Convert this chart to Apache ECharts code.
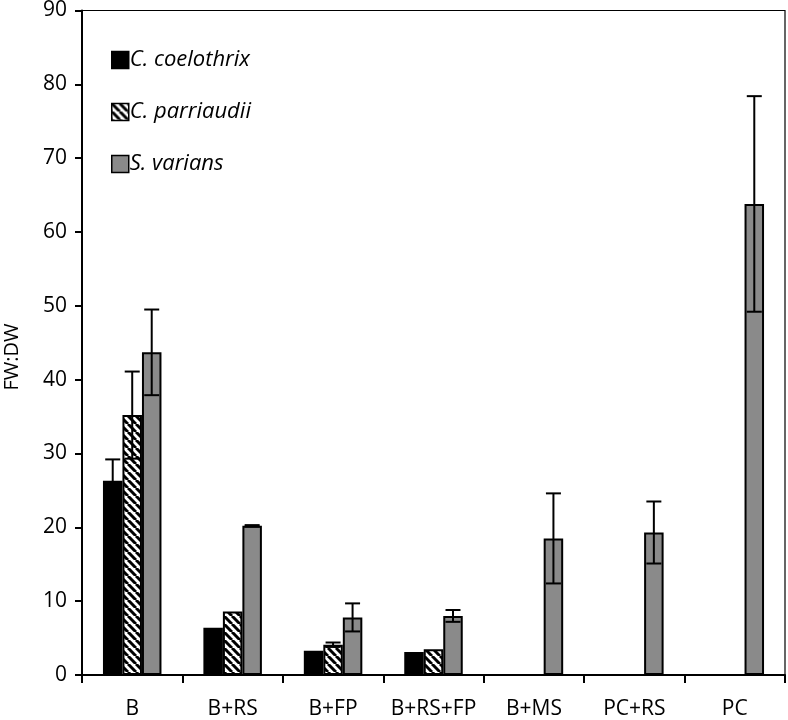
<!DOCTYPE html>
<html>
<head>
<meta charset="utf-8">
<script src="https://cdn.jsdelivr.net/npm/echarts@6/dist/echarts.min.js"></script>
<style>html,body{margin:0;padding:0;background:#fff}#c{width:788px;height:720px}</style>
</head>
<body>
<div id="c"></div>
<script>
const categories = ['B', 'B+RS', 'B+FP', 'B+RS+FP', 'B+MS', 'PC+RS', 'PC'];
const seriesNames = ['C. coelothrix', 'C. parriaudii', 'S. varians'];
const coelothrix = [26.3, 6.4, 3.3, 3.1, null, null, null];
const parriaudii = [35.2, 8.6, 4.1, 3.5, null, null, null];
const varians = [43.7, 20.2, 7.8, 8.0, 18.5, 19.3, 63.8];
const coelothrixErr = [2.9, null, null, null, null, null, null];
const parriaudiiErr = [5.9, null, 0.3, null, null, null, null];
const variansErr = [5.8, 0.1, 1.9, 0.8, 6.1, 4.2, 14.6];
const yTicks = [0, 10, 20, 30, 40, 50, 60, 70, 80, 90];
const yAxisTitle = 'FW:DW';

const FONT = 'Open Sans';
const BAR_W = 19.5;

function hatch() {
  const c = document.createElement('canvas');
  c.width = 8; c.height = 8;
  const g = c.getContext('2d');
  g.fillStyle = '#fff'; g.fillRect(0, 0, 8, 8);
  g.strokeStyle = '#000'; g.lineWidth = 3;
  for (const k of [-8, 0, 8]) {
    g.beginPath(); g.moveTo(k, 0); g.lineTo(k + 8, 8); g.stroke();
  }
  return c;
}
const colors = ['#000000', { image: hatch(), repeat: 'repeat' }, '#8a8a8a'];
const values = [coelothrix, parriaudii, varians];
const errs = [coelothrixErr, parriaudiiErr, variansErr];

const chart = echarts.init(document.getElementById('c'));
const series = [];
values.forEach((v, i) => {
  series.push({
    name: seriesNames[i], type: 'bar', data: v, barWidth: BAR_W, barGap: '0%',
    itemStyle: { color: colors[i], borderColor: '#000', borderWidth: 2 },
    z: 2
  });
});
values.forEach((v, i) => {
  const d = v.map((val, j) => (val == null || errs[i][j] == null ? null : [j, val, errs[i][j]])).filter(x => x);
  series.push({
    type: 'custom', data: d, z: 5, silent: true,
    renderItem: function (params, api) {
      const idx = api.value(0), val = api.value(1), e = api.value(2);
      const off = (i - 1) * BAR_W;
      const top = api.coord([idx, val + e]);
      const bot = api.coord([idx, val - e]);
      const x = top[0] + off;
      const cw = 7.5;
      const st = { stroke: '#000', lineWidth: 2 };
      return { type: 'group', children: [
        { type: 'line', shape: { x1: x, y1: top[1], x2: x, y2: bot[1] }, style: st },
        { type: 'line', shape: { x1: x - cw, y1: top[1], x2: x + cw, y2: top[1] }, style: st },
        { type: 'line', shape: { x1: x - cw, y1: bot[1], x2: x + cw, y2: bot[1] }, style: st }
      ]};
    }
  });
});

chart.setOption({
  animation: false,
  grid: { left: 82, right: 3, top: 9, bottom: 44, show: true, borderColor: '#000', borderWidth: 1.2, backgroundColor: 'transparent' },
  legend: {
    data: seriesNames, orient: 'vertical', left: 106, top: 44, itemGap: 30,
    itemWidth: 17, itemHeight: 17, icon: 'rect',
    textStyle: { fontFamily: FONT, fontStyle: 'italic', fontSize: 22, color: '#000', padding: [0, 0, 0, -4] },
    itemStyle: { borderColor: '#000', borderWidth: 1.5 }
  },
  graphic: [{
    type: 'text', x: 12, y: 357, rotation: Math.PI / 2,
    style: { text: yAxisTitle, fontFamily: FONT, fontSize: 20, fill: '#000', align: 'center', verticalAlign: 'middle' }
  }],
  xAxis: {
    type: 'category', data: categories,
    axisLine: { lineStyle: { color: '#000', width: 2 } },
    axisTick: { show: true, interval: 0, length: 8, lineStyle: { color: '#000', width: 2 } },
    axisLabel: { interval: 0, fontFamily: FONT, fontSize: 21, color: '#000', margin: 24 }
  },
  yAxis: {
    type: 'value', min: 0, max: 90, interval: 10,
    axisLine: { show: true, lineStyle: { color: '#000', width: 2 } },
    axisTick: { show: true, length: 7, lineStyle: { color: '#000', width: 2 } },
    splitLine: { show: false },
    axisLabel: { fontFamily: FONT, fontSize: 21, color: '#000', margin: 15,
      formatter: v => (yTicks.includes(v) ? String(v) : '') }
  },
  series: series
});
</script>
</body>
</html>
